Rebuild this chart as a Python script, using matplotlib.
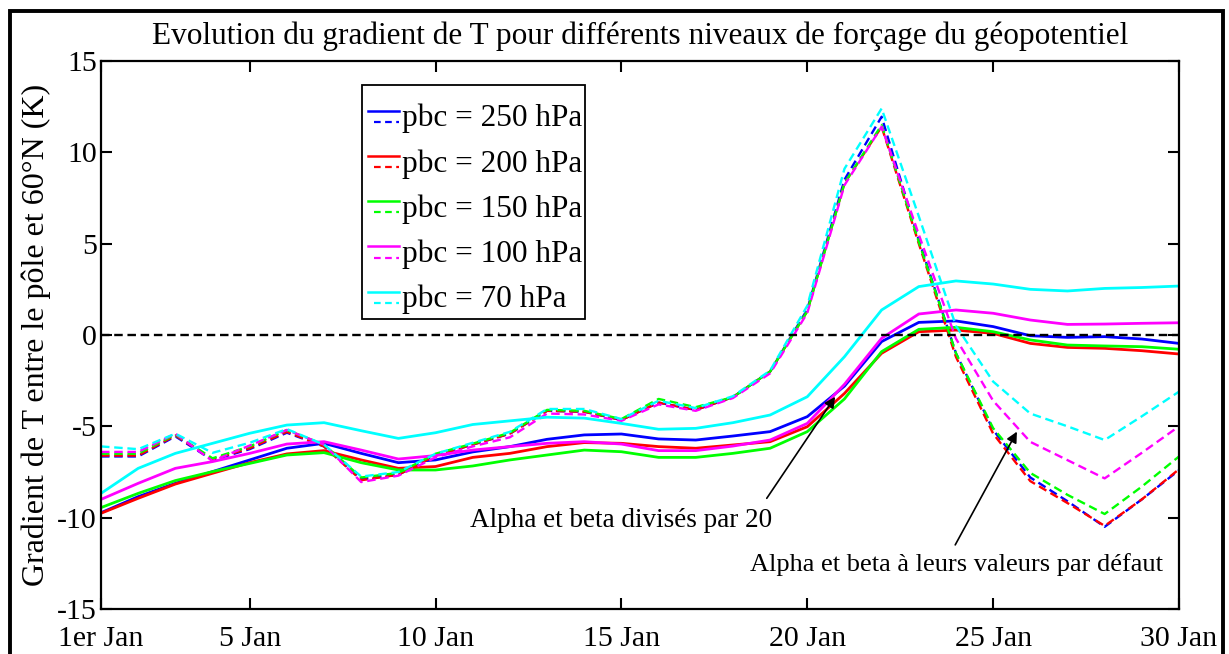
import matplotlib
matplotlib.use("Agg")
import matplotlib.pyplot as plt
from matplotlib.lines import Line2D
from matplotlib.legend_handler import HandlerBase
from matplotlib.patches import Rectangle
import numpy as np

# ---- data: temperature gradient between the pole and 60N (K), daily, January ----
days = list(range(1, 31))
tick_days = [1, 5, 10, 15, 20, 25, 30]
tick_labels = ["1er Jan", "5 Jan", "10 Jan", "15 Jan", "20 Jan", "25 Jan", "30 Jan"]
levels = ["pbc = 250 hPa", "pbc = 200 hPa", "pbc = 150 hPa", "pbc = 100 hPa", "pbc = 70 hPa"]
colors = ["#0000ff", "#ff0000", "#00ff00", "#ff00ff", "#00ffff"]

# default alpha / beta (solid)
solid_250 = [-9.73, -8.85, -8.12, -7.48, -6.84, -6.20, -5.93, -6.48, -6.99, -6.84,
             -6.40, -6.11, -5.71, -5.47, -5.42, -5.69, -5.75, -5.53, -5.29, -4.47,
             -2.80, -0.36, 0.69, 0.77, 0.46, -0.04, -0.13, -0.09, -0.22, -0.46]
solid_200 = [-9.76, -8.94, -8.16, -7.57, -6.99, -6.51, -6.33, -6.84, -7.30, -7.20,
             -6.70, -6.48, -6.11, -5.89, -5.93, -6.11, -6.20, -6.02, -5.84, -5.02,
             -3.20, -1.00, 0.18, 0.27, 0.09, -0.46, -0.68, -0.73, -0.86, -1.04]
solid_150 = [-9.45, -8.67, -7.97, -7.48, -7.03, -6.57, -6.44, -6.99, -7.39, -7.39,
             -7.17, -6.84, -6.57, -6.30, -6.39, -6.70, -6.70, -6.48, -6.20, -5.29,
             -3.50, -0.91, 0.31, 0.42, 0.18, -0.27, -0.55, -0.60, -0.64, -0.78]
solid_100 = [-9.00, -8.12, -7.30, -6.93, -6.48, -5.97, -5.84, -6.30, -6.79, -6.60,
             -6.30, -6.11, -5.93, -5.84, -5.97, -6.33, -6.33, -6.08, -5.75, -4.84,
             -2.70, -0.18, 1.15, 1.37, 1.19, 0.82, 0.58, 0.60, 0.64, 0.67]
solid_70 = [-8.67, -7.30, -6.48, -5.93, -5.38, -4.93, -4.80, -5.24, -5.66, -5.35,
            -4.90, -4.70, -4.50, -4.55, -4.84, -5.16, -5.11, -4.80, -4.38, -3.38,
            -1.19, 1.37, 2.65, 2.96, 2.79, 2.50, 2.41, 2.55, 2.60, 2.68]

# alpha / beta divided by 20 (dashed)
dashed_250 = [-6.65, -6.65, -5.55, -6.85, -6.25, -5.35, -6.10, -7.90, -7.65, -6.60,
              -6.00, -5.40, -4.15, -4.20, -4.65, -3.70, -4.10, -3.40, -2.00, 1.40,
              8.50, 11.95, 5.20, -1.00, -5.20, -7.80, -9.10, -10.50, -9.00, -7.40]
dashed_200 = [-6.60, -6.60, -5.50, -6.80, -6.20, -5.30, -6.10, -7.95, -7.65, -6.60,
              -6.00, -5.40, -4.15, -4.20, -4.65, -3.70, -4.10, -3.40, -2.00, 1.30,
              8.30, 11.40, 5.00, -1.20, -5.40, -8.00, -9.20, -10.45, -9.00, -7.35]
dashed_150 = [-6.50, -6.50, -5.45, -6.75, -6.10, -5.20, -6.00, -7.80, -7.55, -6.50,
              -5.95, -5.35, -4.10, -4.15, -4.60, -3.50, -3.95, -3.40, -2.00, 1.30,
              8.30, 11.50, 5.10, -1.00, -5.10, -7.55, -8.75, -9.80, -8.30, -6.65]
dashed_100 = [-6.40, -6.40, -5.40, -6.90, -6.05, -5.20, -6.00, -8.05, -7.70, -6.70,
              -6.10, -5.60, -4.30, -4.35, -4.70, -3.80, -4.15, -3.45, -2.10, 1.20,
              8.20, 11.40, 5.50, -0.20, -3.60, -5.85, -6.85, -7.85, -6.45, -5.00]
dashed_70 = [-6.10, -6.25, -5.40, -6.45, -5.90, -5.15, -6.00, -7.75, -7.50, -6.50,
             -5.90, -5.30, -4.05, -4.05, -4.60, -3.60, -4.00, -3.35, -1.95, 1.60,
             9.10, 12.40, 6.50, 0.50, -2.55, -4.30, -5.00, -5.75, -4.45, -3.10]

solid = [solid_250, solid_200, solid_150, solid_100, solid_70]
dashed = [dashed_250, dashed_200, dashed_150, dashed_100, dashed_70]

plt.rcParams["font.family"] = ["Liberation Serif", "DejaVu Serif"]
plt.rcParams["axes.unicode_minus"] = False

fig = plt.figure(figsize=(12.29, 6.54), dpi=100)
W, H = 1229, 654
ax = fig.add_axes([101 / W, 1 - 609 / H, (1179 - 101) / W, (609 - 61) / H])

DASH = (0, (3.6, 2.0))
for s, d, c in zip(solid, dashed, colors):
    ax.plot(days, s, color=c, lw=2.0, solid_joinstyle="round")
    ax.plot(days, d, color=c, lw=1.7, linestyle=DASH)

ax.axhline(0, color="black", lw=1.7, linestyle=DASH)

ax.set_xlim(1, 30)
ax.set_ylim(-15, 15)
ax.set_xticks(tick_days)
ax.set_xticklabels(tick_labels)
ax.set_yticks(np.arange(-15, 16, 5))
ax.tick_params(direction="in", length=8, width=1.5, labelsize=21.5,
               top=True, right=True)
ax.tick_params(axis="x", pad=12)
ax.tick_params(axis="y", pad=3)
for sp in ax.spines.values():
    sp.set_linewidth(1.6)

ax.set_title("Evolution du gradient de T pour différents niveaux de forçage du géopotentiel",
             fontsize=22.5, pad=12)
ax.set_ylabel("Gradient de T entre le pôle et 60°N (K)", fontsize=23)
ax.yaxis.set_label_coords(-0.046, 0.5)


class DoubleLine(HandlerBase):
    """Solid line stacked above a dashed line of the same colour."""
    def create_artists(self, legend, orig_handle, xdescent, ydescent,
                       width, height, fontsize, trans):
        c = orig_handle.get_color()
        x0, x1 = -xdescent + 0.08 * fontsize, -xdescent + width
        y_top = 0.50 * fontsize
        y_bot = 0.14 * fontsize
        a = Line2D([x0, x1], [y_top, y_top], color=c, lw=1.8)
        b = Line2D([x0 + 0.2 * fontsize, x1], [y_bot, y_bot], color=c, lw=1.6,
                   linestyle=(0, (3, 2)))
        a.set_transform(trans)
        b.set_transform(trans)
        return [a, b]


proxies = [Line2D([], [], color=c) for c in colors]
leg = ax.legend(proxies, levels, handler_map={Line2D: DoubleLine()},
                loc="upper left", bbox_to_anchor=(0.242, 0.956), borderaxespad=0,
                fontsize=22.5, handlelength=1.1, handleheight=1.45,
                handletextpad=0.08, labelspacing=0.26, borderpad=0.1,
                title=" ", title_fontsize=1,
                fancybox=False, edgecolor="black", framealpha=1)
leg.get_frame().set_linewidth(1.3)

arrow = dict(arrowstyle="-|>", color="black", lw=1.2, mutation_scale=16,
             shrinkA=0, shrinkB=0)
ax.annotate("", xy=(20.75, -3.38), xytext=(18.91, -8.94), arrowprops=arrow)
ax.text(14.99, -10.13, "Alpha et beta divisés par 20", fontsize=19.5,
        ha="center", va="center")
ax.annotate("", xy=(25.64, -5.29), xytext=(23.98, -11.49), arrowprops=arrow)
ax.text(29.57, -12.59, "Alpha et beta à leurs valeurs par défaut", fontsize=19,
        ha="right", va="center")

# outer frame around the whole figure
fig.patches.append(Rectangle((10 / W, -0.05), (1223 - 10) / W, 1.05 - 11 / H,
                             transform=fig.transFigure, fill=False,
                             edgecolor="black", lw=2.8, clip_on=False))

fig.savefig("out.png", dpi=100)
